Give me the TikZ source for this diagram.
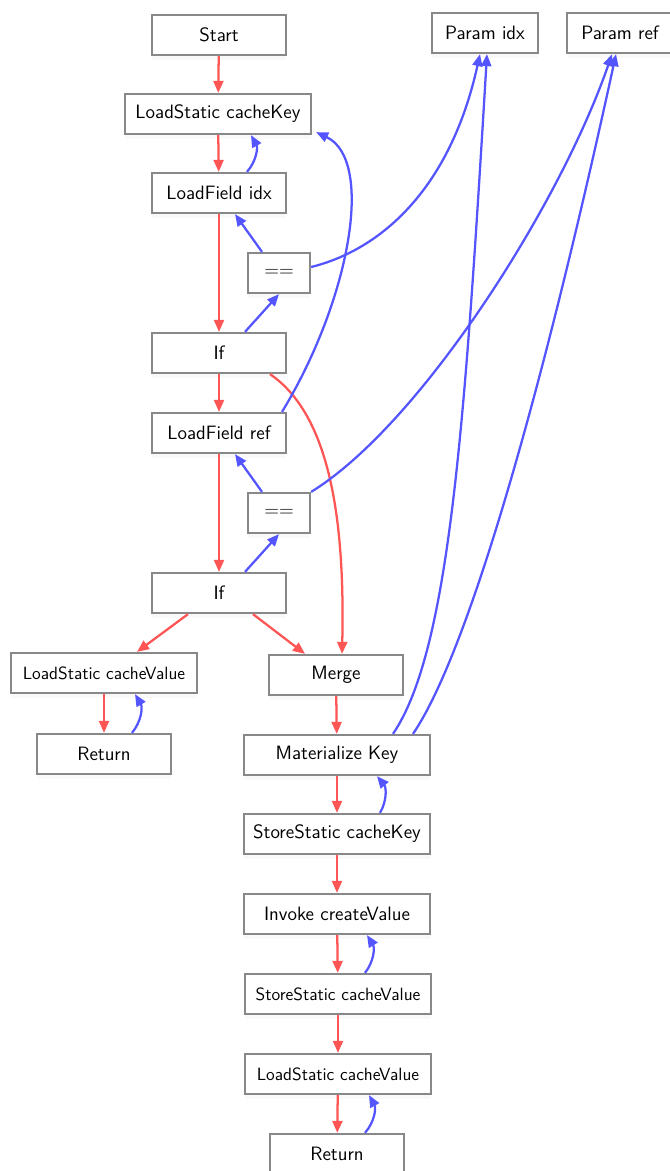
\documentclass[tikz,border=0pt]{standalone}
\usetikzlibrary{arrows.meta, calc, shadows}
\definecolor{flowred}{RGB}{255, 85, 85}
\definecolor{datablue}{RGB}{85, 85, 255}
\definecolor{boxgray}{RGB}{136, 136, 136}

\begin{document}
\begin{tikzpicture}[x=0.75pt, y=-0.75pt,
  op/.style={draw=boxgray, line width=1.7pt, fill=white, minimum width=100.5pt, minimum height=30pt, inner sep=2pt, font=\fontsize{14.5}{17}\selectfont\sffamily, drop shadow={shadow xshift=0pt, shadow yshift=-4pt, opacity=0.05}},
  wideop/.style={op, minimum width=139.5pt},
  longop/.style={wideop, font=\fontsize{13.3}{16}\selectfont\sffamily},
  cmpop/.style={op, minimum width=46.5pt},
  parop/.style={op, minimum width=80pt},
  cflow/.style={-{Triangle[length=9pt, width=7.5pt]}, line width=1.7pt, flowred},
  dflow/.style={-{Triangle[length=9pt, width=7.5pt]}, line width=1.7pt, datablue}
]
  \useasboundingbox (0,0) rectangle (670,1171);

  % Main column
  \node[op] (start) at (219, 35) {Start};
  \node[wideop] (lsk) at (218, 114) {LoadStatic cacheKey};
  \node[op] (lfi) at (219, 193) {LoadField idx};
  \node[cmpop] (eqa) at (279, 273) {==};
  \node[op] (ifa) at (219, 353) {If};
  \node[op] (lfr) at (219, 433) {LoadField ref};
  \node[cmpop] (eqb) at (279, 513) {==};
  \node[op] (ifb) at (219, 593) {If};

  % Left branch
  \node[longop] (lsv) at (104, 673) {LoadStatic cacheValue};
  \node[op] (reta) at (104, 754) {Return};

  % Right branch
  \node[op] (mrg) at (336, 675) {Merge};
  \node[wideop] (mat) at (337, 755) {Materialize Key};
  \node[wideop] (ssk) at (337, 834) {StoreStatic cacheKey};
  \node[wideop] (inv) at (337, 914) {Invoke createValue};
  \node[longop] (ssv) at (338, 994) {StoreStatic cacheValue};
  \node[longop] (lsvb) at (338, 1074) {LoadStatic cacheValue};
  \node[op] (retb) at (337, 1154) {Return};

  % Parameters
  \node[parop] (pidx) at (485, 33) {Param idx};
  \node[parop] (pref) at (620, 33) {Param ref};

  % Control flow
  \draw[cflow] (start) -- (lsk);
  \draw[cflow] (lsk) -- (lfi);
  \draw[cflow] (lfi) -- (ifa);
  \draw[cflow] (ifa) -- (lfr);
  \draw[cflow] (lfr) -- (ifb);
  \draw[cflow] ($(ifb.south)+(-31,0)$) -- ($(lsv.north)+(33,0)$);
  \draw[cflow] ($(ifb.south)+(34,0)$) -- ($(mrg.north)+(-31,0)$);
  \draw[cflow] ($(ifa.south)+(51,0)$) .. controls (330,415) and (345,520) .. ($(mrg.north)+(6,0)$);
  \draw[cflow] (lsv) -- (reta);
  \draw[cflow] (mrg) -- (mat);
  \draw[cflow] (mat) -- (ssk);
  \draw[cflow] (ssk) -- (inv);
  \draw[cflow] (inv) -- (ssv);
  \draw[cflow] (ssv) -- (lsvb);
  \draw[cflow] (lsvb) -- (retb);

  % Data flow
  \draw[dflow] ($(lfi.north)+(28,0)$) to[bend right=35] ($(lsk.south)+(33,0)$);
  \draw[dflow] ($(eqa.north)+(-17,0)$) -- ($(lfi.south)+(16,0)$);
  \draw[dflow] ($(ifa.north)+(26,0)$) -- (eqa.south);
  \draw[dflow] ($(eqa.east)+(0,-6)$) .. controls (380,250) and (450,190) .. ($(pidx.south)+(-5,0)$);
  \draw[dflow] ($(lfr.north)+(63,0)$) .. controls (350,300) and (375,160) .. ($(lsk.south east)+(4,-3)$);
  \draw[dflow] ($(eqb.north)+(-17,0)$) -- ($(lfr.south)+(16,0)$);
  \draw[dflow] ($(ifb.north)+(26,0)$) -- (eqb.south);
  \draw[dflow] (eqb.north east) .. controls (420,425) and (560,205) .. ($(pref.south)+(-8,0)$);
  \draw[dflow] ($(reta.north)+(28,0)$) to[bend right=35] ($(lsv.south)+(31,0)$);
  \draw[dflow] ($(mat.north)+(56,0)$) .. controls (450,650) and (465,420) .. ($(pidx.south)+(2,0)$);
  \draw[dflow] ($(mat.north)+(76,0)$) .. controls (470,650) and (545,380) .. ($(pref.south)+(-4,0)$);
  \draw[dflow] ($(ssk.north)+(43,0)$) to[bend right=35] ($(mat.south)+(40,0)$);
  \draw[dflow] ($(ssv.north)+(27,0)$) to[bend right=35] ($(inv.south)+(30,0)$);
  \draw[dflow] ($(retb.north)+(28,0)$) to[bend right=35] ($(lsvb.south)+(31,0)$);
\end{tikzpicture}
\end{document}
